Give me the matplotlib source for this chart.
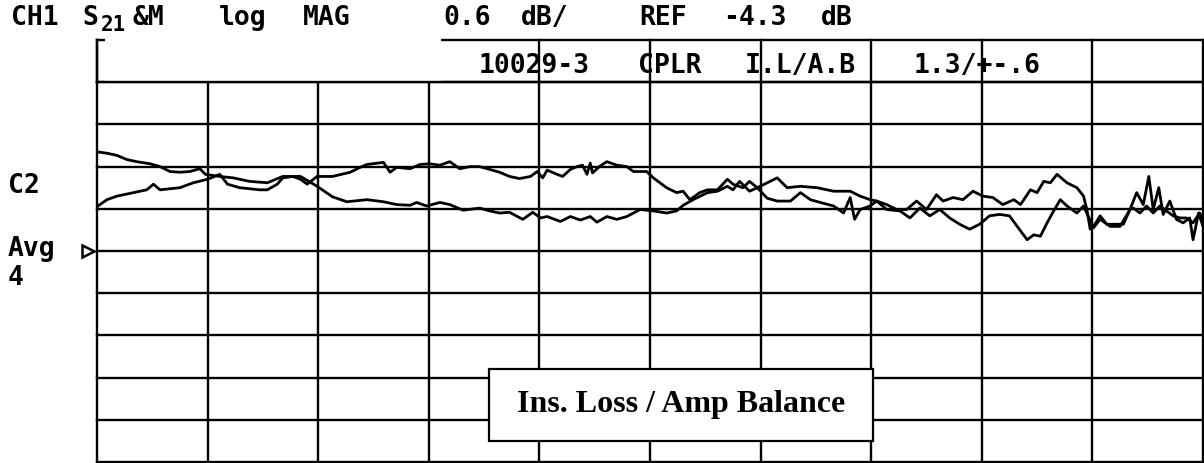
import matplotlib
matplotlib.use("Agg")
import matplotlib.pyplot as plt
import matplotlib.patches as patches
import numpy as np

# analyzer settings
REF_DB = -4.3
DB_PER_DIV = 0.6
N_DIV = 10

# trace 1 (starts high on the left), x in graticule divisions, y in dB
trace1_x = [0.00, 0.09, 0.18, 0.27, 0.36, 0.48, 0.57, 0.66, 0.75, 0.84, 0.93, 0.98,
            1.11, 1.23, 1.38, 1.54, 1.68, 1.84, 1.99, 2.13, 2.26, 2.44, 2.59, 2.71,
            2.83, 2.89, 2.98, 3.10, 3.19, 3.31, 3.46, 3.55, 3.64, 3.73, 3.85, 3.94,
            4.01, 4.07, 4.19, 4.28, 4.37, 4.46, 4.52, 4.61, 4.70, 4.79, 4.91, 5.03,
            5.15, 5.24, 5.30, 5.39, 5.52, 5.61, 5.70, 5.75, 5.81, 5.90, 5.97, 6.06,
            6.15, 6.27, 6.36, 6.45, 6.54, 6.66, 6.75, 6.81, 6.85, 6.90, 6.99, 7.05,
            7.14, 7.26, 7.35, 7.44, 7.53, 7.62, 7.71, 7.80, 7.89, 7.98, 8.07, 8.16,
            8.25, 8.32, 8.41, 8.47, 8.53, 8.59, 8.65, 8.71, 8.77, 8.86, 8.92, 9.01,
            9.07, 9.16, 9.25, 9.34, 9.40, 9.46, 9.51, 9.55, 9.60, 9.64, 9.70, 9.76,
            9.82, 9.88, 9.91, 9.96, 10.00]
trace1_db = [-2.89, -2.91, -2.94, -3.00, -3.03, -3.06, -3.10, -3.17, -3.18, -3.17, -3.13, -3.21,
             -3.24, -3.26, -3.31, -3.33, -3.24, -3.24, -3.38, -3.53, -3.60, -3.57, -3.60, -3.64,
             -3.65, -3.61, -3.66, -3.61, -3.64, -3.72, -3.69, -3.73, -3.76, -3.75, -3.85, -3.75,
             -3.83, -3.81, -3.88, -3.81, -3.86, -3.81, -3.89, -3.81, -3.85, -3.81, -3.71, -3.73,
             -3.76, -3.73, -3.65, -3.57, -3.47, -3.45, -3.38, -3.43, -3.31, -3.45, -3.40, -3.55,
             -3.59, -3.59, -3.47, -3.57, -3.61, -3.66, -3.76, -3.54, -3.85, -3.71, -3.66, -3.59,
             -3.71, -3.73, -3.83, -3.69, -3.80, -3.71, -3.83, -3.92, -3.99, -3.92, -3.80, -3.78,
             -3.80, -3.95, -4.14, -4.07, -4.09, -3.90, -3.73, -3.57, -3.66, -3.76, -3.66, -3.97,
             -3.85, -3.95, -3.95, -3.71, -3.47, -3.64, -3.24, -3.71, -3.40, -3.78, -3.59, -3.85,
             -3.90, -3.83, -4.14, -3.76, -3.95]

# trace 2 (starts low on the left)
trace2_x = [0.00, 0.09, 0.18, 0.33, 0.45, 0.51, 0.57, 0.75, 0.87, 1.00, 1.11, 1.18,
            1.29, 1.47, 1.54, 1.63, 1.68, 1.77, 1.84, 1.90, 1.99, 2.13, 2.29, 2.38,
            2.44, 2.59, 2.65, 2.71, 2.83, 2.92, 3.01, 3.10, 3.19, 3.28, 3.37, 3.46,
            3.55, 3.64, 3.73, 3.82, 3.92, 3.98, 4.03, 4.07, 4.16, 4.21, 4.28, 4.34,
            4.39, 4.43, 4.46, 4.48, 4.55, 4.61, 4.70, 4.79, 4.85, 4.97, 5.03, 5.15,
            5.24, 5.30, 5.36, 5.45, 5.52, 5.61, 5.70, 5.75, 5.84, 5.90, 5.97, 6.06,
            6.15, 6.24, 6.36, 6.51, 6.60, 6.66, 6.81, 6.90, 6.99, 7.05, 7.14, 7.23,
            7.32, 7.41, 7.50, 7.59, 7.65, 7.74, 7.83, 7.92, 8.01, 8.10, 8.19, 8.29,
            8.35, 8.44, 8.50, 8.56, 8.62, 8.68, 8.77, 8.86, 8.92, 8.95, 8.98, 9.01,
            9.07, 9.13, 9.22, 9.28, 9.34, 9.37, 9.43, 9.49, 9.55, 9.61, 9.67, 9.73,
            9.79, 9.85, 9.91, 9.97, 10.00]
trace2_db = [-3.67, -3.57, -3.52, -3.47, -3.43, -3.35, -3.43, -3.40, -3.33, -3.28, -3.21, -3.35,
             -3.40, -3.43, -3.43, -3.35, -3.26, -3.24, -3.28, -3.35, -3.24, -3.24, -3.18, -3.11,
             -3.07, -3.04, -3.18, -3.11, -3.13, -3.07, -3.06, -3.08, -3.03, -3.13, -3.10, -3.10,
             -3.14, -3.18, -3.24, -3.27, -3.24, -3.17, -3.26, -3.15, -3.21, -3.24, -3.14, -3.10,
             -3.08, -3.21, -3.05, -3.19, -3.09, -3.03, -3.08, -3.10, -3.17, -3.17, -3.26, -3.40,
             -3.47, -3.45, -3.57, -3.47, -3.43, -3.43, -3.28, -3.35, -3.40, -3.31, -3.40, -3.33,
             -3.26, -3.40, -3.38, -3.40, -3.43, -3.45, -3.45, -3.52, -3.57, -3.59, -3.64, -3.71,
             -3.71, -3.59, -3.71, -3.50, -3.59, -3.54, -3.57, -3.45, -3.52, -3.54, -3.64, -3.57,
             -3.64, -3.43, -3.47, -3.31, -3.33, -3.21, -3.33, -3.40, -3.52, -3.71, -3.99, -3.95,
             -3.80, -3.92, -3.92, -3.92, -3.71, -3.69, -3.76, -3.66, -3.76, -3.66, -3.73, -3.80,
             -3.83, -3.83, -3.90, -3.76, -3.85]

W, H = 1204, 464

def fx(px):
    return px / W

def fy(py):
    return 1 - py / H

fig = plt.figure(figsize=(W / 100, H / 100), dpi=100)
ax = fig.add_axes([fx(97), fy(463), fx(1203) - fx(97), fy(41) - fy(463)])
top = REF_DB + DB_PER_DIV * N_DIV / 2
bottom = REF_DB - DB_PER_DIV * N_DIV / 2
ax.set_xlim(0, N_DIV)
ax.set_ylim(bottom, top)
ax.axis("off")

GRID_LW = 1.7
for i in range(N_DIV + 1):
    ax.axvline(i, color="black", lw=GRID_LW, clip_on=False, zorder=2)
    ax.axhline(bottom + i * DB_PER_DIV, color="black", lw=GRID_LW, clip_on=False, zorder=2)

# blank label box in the top-left cell row, with the little bracket
box_right = 3.11
ax.add_patch(patches.Rectangle((0.07, top - DB_PER_DIV + 0.02), box_right - 0.07, DB_PER_DIV + 0.1,
                               facecolor="white", edgecolor="none", clip_on=False, zorder=3))
ax.plot([0, 0], [top, top - DB_PER_DIV], color="black", lw=GRID_LW, clip_on=False, zorder=4)
ax.axhline(top - DB_PER_DIV, color="black", lw=GRID_LW, clip_on=False, zorder=4)

ax.plot(trace1_x, trace1_db, color="black", lw=2.0, zorder=2.5)
ax.plot(trace2_x, trace2_db, color="black", lw=2.0, zorder=2.5)

# reference position marker
ax.plot([-0.08], [REF_DB], marker=">", markersize=9, markerfacecolor="white",
        markeredgecolor="black", markeredgewidth=1.8, clip_on=False, zorder=5)

mono = "DejaVu Sans Mono"
FS = 19

def word(s, cx, base, size=FS, ha="center"):
    fig.text(fx(cx), fy(base), s, family=mono, weight="bold", fontsize=size,
             ha=ha, va="baseline")

# header line
word("CH1", 35, 25)
word("S", 90, 25)
word("21", 113, 31, size=15)
word("&M", 148, 25)
word("log", 243, 25)
word("MAG", 327, 25)
word("0.6", 467, 25)
word("dB/", 545, 25)
word("REF", 663, 25)
word("-4.3", 755, 25)
word("dB", 837, 25)

# title row inside the graticule
word("10029-3", 534, 73)
word("CPLR", 670, 73)
word("I.L/A.B", 800, 73)
word("1.3/+-.6", 977, 73)

# left annotations
word("C2", 8, 193, ha="left")
word("Avg", 8, 256, ha="left")
word("4", 8, 285, ha="left")

# caption box
fig.add_artist(patches.Rectangle((fx(489), fy(442)), fx(873) - fx(489), fy(370) - fy(442),
                                 transform=fig.transFigure, facecolor="white",
                                 edgecolor="black", lw=1.6, zorder=5))
fig.text(fx(681), fy(412), "Ins. Loss / Amp Balance", family="Liberation Serif",
         weight="bold", fontsize=23, ha="center", va="baseline", zorder=6)

plt.savefig("out.png", dpi=100)
